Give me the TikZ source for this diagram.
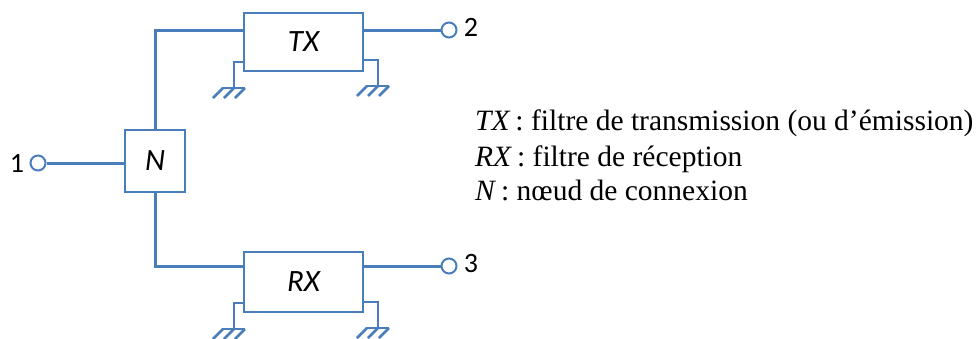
\documentclass[tikz,border=0pt]{standalone}
\usepackage{fontspec}
\setmainfont{Liberation Serif}
\newfontfamily\boxfont{Carlito}
\usetikzlibrary{arrows.meta}
\definecolor{wire}{HTML}{4A7EBB}
\tikzset{
  wireline/.style={draw=wire, line width=3pt},
  earthline/.style={draw=wire, line width=2.8pt},
  filterbox/.style={draw=wire, line width=2.3pt, fill=white, inner sep=0pt, font=\boxfont\fontsize{31}{33}\selectfont\itshape},
  port/.style={circle, draw=wire, line width=2pt, fill=white, minimum size=15pt, inner sep=0pt},
  portlabel/.style={font=\boxfont\fontsize{28}{30}\selectfont},
  legend/.style={anchor=base west, inner sep=0pt, font=\fontsize{29.5}{32}\selectfont}
}
% one earth: lead from the box side, then a bar with three slanted ticks
\newcommand{\earth}[3]{%
  \coordinate (#1bar) at (#2,#3);
  \draw[earthline] ([xshift=-12pt]#1bar) -- ([xshift=11pt]#1bar);
  \foreach \d in {-11,0,11}
    \draw[earthline] ([xshift=\d pt]#1bar) -- ([xshift=\d pt-10pt,yshift=-10pt]#1bar);
}
\begin{document}
\begin{tikzpicture}[x=1pt, y=-1pt]
  \useasboundingbox (0,0) rectangle (977,338);

  \coordinate (txin) at (244,30);
  \coordinate (txout) at (363,30);
  \coordinate (rxin) at (244,266);
  \coordinate (rxout) at (363,266);
  \coordinate (nin) at (125,163);
  \coordinate (ntop) at (155,130);
  \coordinate (nbot) at (155,192);

  \node[port] (p1) at (38,163) {};
  \node[port] (p2) at (449,30) {};
  \node[port] (p3) at (449,266) {};
  \node[portlabel] (l1) at (17,163) {1};
  \node[portlabel] (l2) at (471,27) {2};
  \node[portlabel] (l3) at (471,264) {3};

  \draw[wireline] (p1) -- (nin);
  \draw[wireline] (ntop) |- (txin);
  \draw[wireline] (nbot) |- (rxin);
  \draw[wireline] (txout) -- (p2);
  \draw[wireline] (rxout) -- (p3);

  % earths
  \earth{txl}{234}{88}
  \earth{txr}{378}{86}
  \earth{rxl}{234}{329}
  \earth{rxr}{378}{328}
  \coordinate (txla) at (244,62);
  \coordinate (txra) at (363,60);
  \coordinate (rxla) at (244,303);
  \coordinate (rxra) at (363,302);
  \draw[earthline] (txla) -| (txlbar);
  \draw[earthline] (txra) -| (txrbar);
  \draw[earthline] (rxla) -| (rxlbar);
  \draw[earthline] (rxra) -| (rxrbar);

  \node[filterbox, minimum width=119pt, minimum height=58pt] (tx) at (303.5,42) {\raisebox{-2pt}{TX}};
  \node[filterbox, minimum width=119pt, minimum height=60pt] (rx) at (303.5,282) {RX};
  \node[filterbox, minimum width=60pt, minimum height=62pt] (n) at (155,161) {N};

  \node[legend] (leg1) at (475,130) {\textit{TX}\,: filtre de transmission (ou d’émission)};
  \node[legend] (leg2) at (475,166) {\textit{RX}\,: filtre de réception};
  \node[legend] (leg3) at (475,200) {\textit{N}\,: nœud de connexion};
\end{tikzpicture}
\end{document}
